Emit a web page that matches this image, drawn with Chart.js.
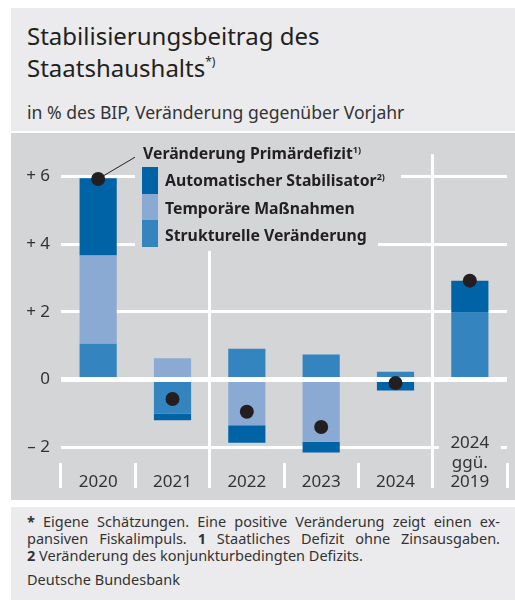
<!DOCTYPE html>
<html>
<head>
<meta charset="utf-8">
<script src="https://cdn.jsdelivr.net/npm/chart.js@4/dist/chart.umd.min.js"></script>
<style>
  body { margin: 0; width: 515px; height: 608px; background: #fff; font-family: "Noto Sans", sans-serif; color: #231f20; position: relative; overflow: hidden; }
  .box { position: absolute; left: 11px; width: 504px; }
  #head { top: 8px; height: 123px; background: #ebebed; }
  #head .title { position: absolute; left: 16px; top: 12px; font-size: 24px; line-height: 32px; }
  #head .title sup { font-size: 12px; vertical-align: 11px; line-height: 0; }
  #head .sub { position: absolute; left: 16px; top: 94px; font-size: 17.6px; line-height: 20px; color: #333; }
  #panel { top: 133px; height: 367px; background: #d4d5d7; }
  #panel canvas { position: absolute; left: 0; top: 0; }
  .lg { position: absolute; background: #d4d5d7; }
  .lgt { position: absolute; font-size: 15.8px; font-weight: bold; line-height: 18px; white-space: nowrap; color: #231f20; }
  .lgt sup { font-size: 9px; vertical-align: 6px; line-height: 0; }
  .sw { position: absolute; left: 131px; width: 16px; }
  #foot { top: 507px; height: 93px; background: #ebebed; }
  #foot .txt { position: absolute; left: 16px; top: 6px; width: 473px; font-size: 14.5px; line-height: 17px; color: #333; }
  #foot .j { text-align: justify; text-align-last: justify; }
  #foot .src { position: absolute; left: 16px; top: 64px; font-size: 14.5px; line-height: 17px; color: #333; }
</style>
</head>
<body>
<div class="box" id="head">
  <div class="title">Stabilisierungsbeitrag des<br>Staatshaushalts<sup>*)</sup></div>
  <div class="sub">in % des BIP, Veränderung gegenüber Vorjahr</div>
</div>
<div class="box" id="panel">
  <canvas id="chart" width="504" height="367"></canvas>
  <div class="lg" style="left:124px; top:12px; width:266px; height:55px;"></div>
  <div class="lg" style="left:124px; top:67px; width:243px; height:51px;"></div>
  <div class="lgt" style="left:132px; top:11px;">Veränderung Primärdefizit<sup>1)</sup></div>
  <div class="sw" style="top:34px; height:27px; background:#0063a6;"></div>
  <div class="sw" style="top:61px; height:26px; background:#8aaad3;"></div>
  <div class="sw" style="top:87px; height:27px; background:#3485bf;"></div>
  <div class="lgt" style="left:154px; top:38px;">Automatischer Stabilisator<sup>2)</sup></div>
  <div class="lgt" style="left:154px; top:66px;">Temporäre Maßnahmen</div>
  <div class="lgt" style="left:154px; top:93px;">Strukturelle Veränderung</div>
</div>
<div class="box" id="foot">
  <div class="txt">
    <div class="j"><b>*</b> Eigene Schätzungen. Eine positive Veränderung zeigt einen ex-</div>
    <div class="j">pansiven Fiskalimpuls. <b>1</b> Staatliches Defizit ohne Zinsausgaben.</div>
    <div><b>2</b> Veränderung des konjunkturbedingten Defizits.</div>
  </div>
  <div class="src">Deutsche Bundesbank</div>
</div>

<script>
// categories (3-line labels so they all sit on the same bottom line)
const years = [
  ['', '', '2020'],
  ['', '', '2021'],
  ['', '', '2022'],
  ['', '', '2023'],
  ['', '', '2024'],
  ['2024', 'ggü.', '2019']
];

// in % des BIP
const structural = [1.06, -1.0, 0.91, 0.74, 0.23, 1.97];
const temporary  = [2.6, 0.63, -1.35, -1.83, 0, 0];
const automatic  = [2.28, -0.2, -0.51, -0.32, -0.32, 0.95];
const primaryDeficit = [5.92, -0.57, -0.95, -1.4, -0.1, 2.92];

const yTickValues = [-2, 0, 2, 4, 6];
const yTickLabels = ['\u2013 2', '0', '+ 2', '+ 4', '+ 6'];

// leader line from the 2020 dot to the legend label
const leaderLine = {
  id: 'leaderLine',
  beforeDatasetsDraw(chart) {
    const dot = chart.getDatasetMeta(3).data[0];
    const ctx = chart.ctx;
    ctx.save();
    ctx.strokeStyle = '#231f20';
    ctx.lineWidth = 1;
    ctx.beginPath();
    ctx.moveTo(dot.x, dot.y);
    ctx.lineTo(126, 23);
    ctx.stroke();
    ctx.restore();
  },
  // gap in the -2 gridline behind the "2024 ggü. 2019" label
  afterDatasetsDraw(chart) {
    const x = chart.scales.x.getPixelForValue(5);
    const y = chart.scales.y.getPixelForValue(-2);
    const ctx = chart.ctx;
    ctx.save();
    ctx.fillStyle = '#d4d5d7';
    ctx.fillRect(x - 31, y - 4, 62, 8);
    ctx.restore();
  }
};

new Chart(document.getElementById('chart').getContext('2d'), {
  type: 'bar',
  data: {
    labels: years,
    datasets: [
      { label: 'Strukturelle Veränderung', data: structural, backgroundColor: '#3485bf', order: 1 },
      { label: 'Temporäre Maßnahmen', data: temporary, backgroundColor: '#8aaad3', order: 1 },
      { label: 'Automatischer Stabilisator', data: automatic, backgroundColor: '#0063a6', order: 1 },
      {
        type: 'line',
        label: 'Veränderung Primärdefizit',
        data: primaryDeficit,
        stack: 'dots',
        showLine: false,
        pointRadius: 7,
        pointHoverRadius: 7,
        pointBackgroundColor: '#231f20',
        pointBorderWidth: 0,
        order: 0
      }
    ]
  },
  options: {
    responsive: false,
    animation: false,
    events: [],
    layout: { padding: { top: 12, right: 8, left: 0, bottom: 0 } },
    datasets: { bar: { barPercentage: 0.5, categoryPercentage: 1 } },
    plugins: { legend: { display: false }, tooltip: { enabled: false } },
    scales: {
      x: {
        stacked: true,
        offset: true,
        border: { display: false },
        grid: {
          offset: true,
          lineWidth: 3,
          tickWidth: 3,
          tickLength: 25,
          tickColor: '#ffffff',
          color: ctx => (ctx.index === 2 || ctx.index === 5) ? '#ffffff' : 'rgba(0,0,0,0)'
        },
        ticks: {
          z: 1,
          mirror: true,
          maxRotation: 0,
          autoSkip: false,
          padding: 10,
          color: '#333',
          font: { family: 'Noto Sans', size: 17, lineHeight: 1.15 }
        },
        afterFit: scale => { scale.height = 37; }
      },
      y: {
        stacked: true,
        min: -2.46,
        max: 6.65,
        border: { display: false },
        grid: {
          drawTicks: false,
          color: '#ffffff',
          lineWidth: ctx => ctx.tick && ctx.tick.value === 0 ? 5 : 3
        },
        afterBuildTicks: scale => { scale.ticks = yTickValues.map(v => ({ value: v })); },
        ticks: {
          padding: 11,
          color: '#333',
          font: { family: 'Noto Sans', size: 17 },
          callback: (value, index) => yTickLabels[index]
        },
        afterFit: scale => { scale.width = 50; }
      }
    }
  },
  plugins: [leaderLine]
});
</script>
</body>
</html>
